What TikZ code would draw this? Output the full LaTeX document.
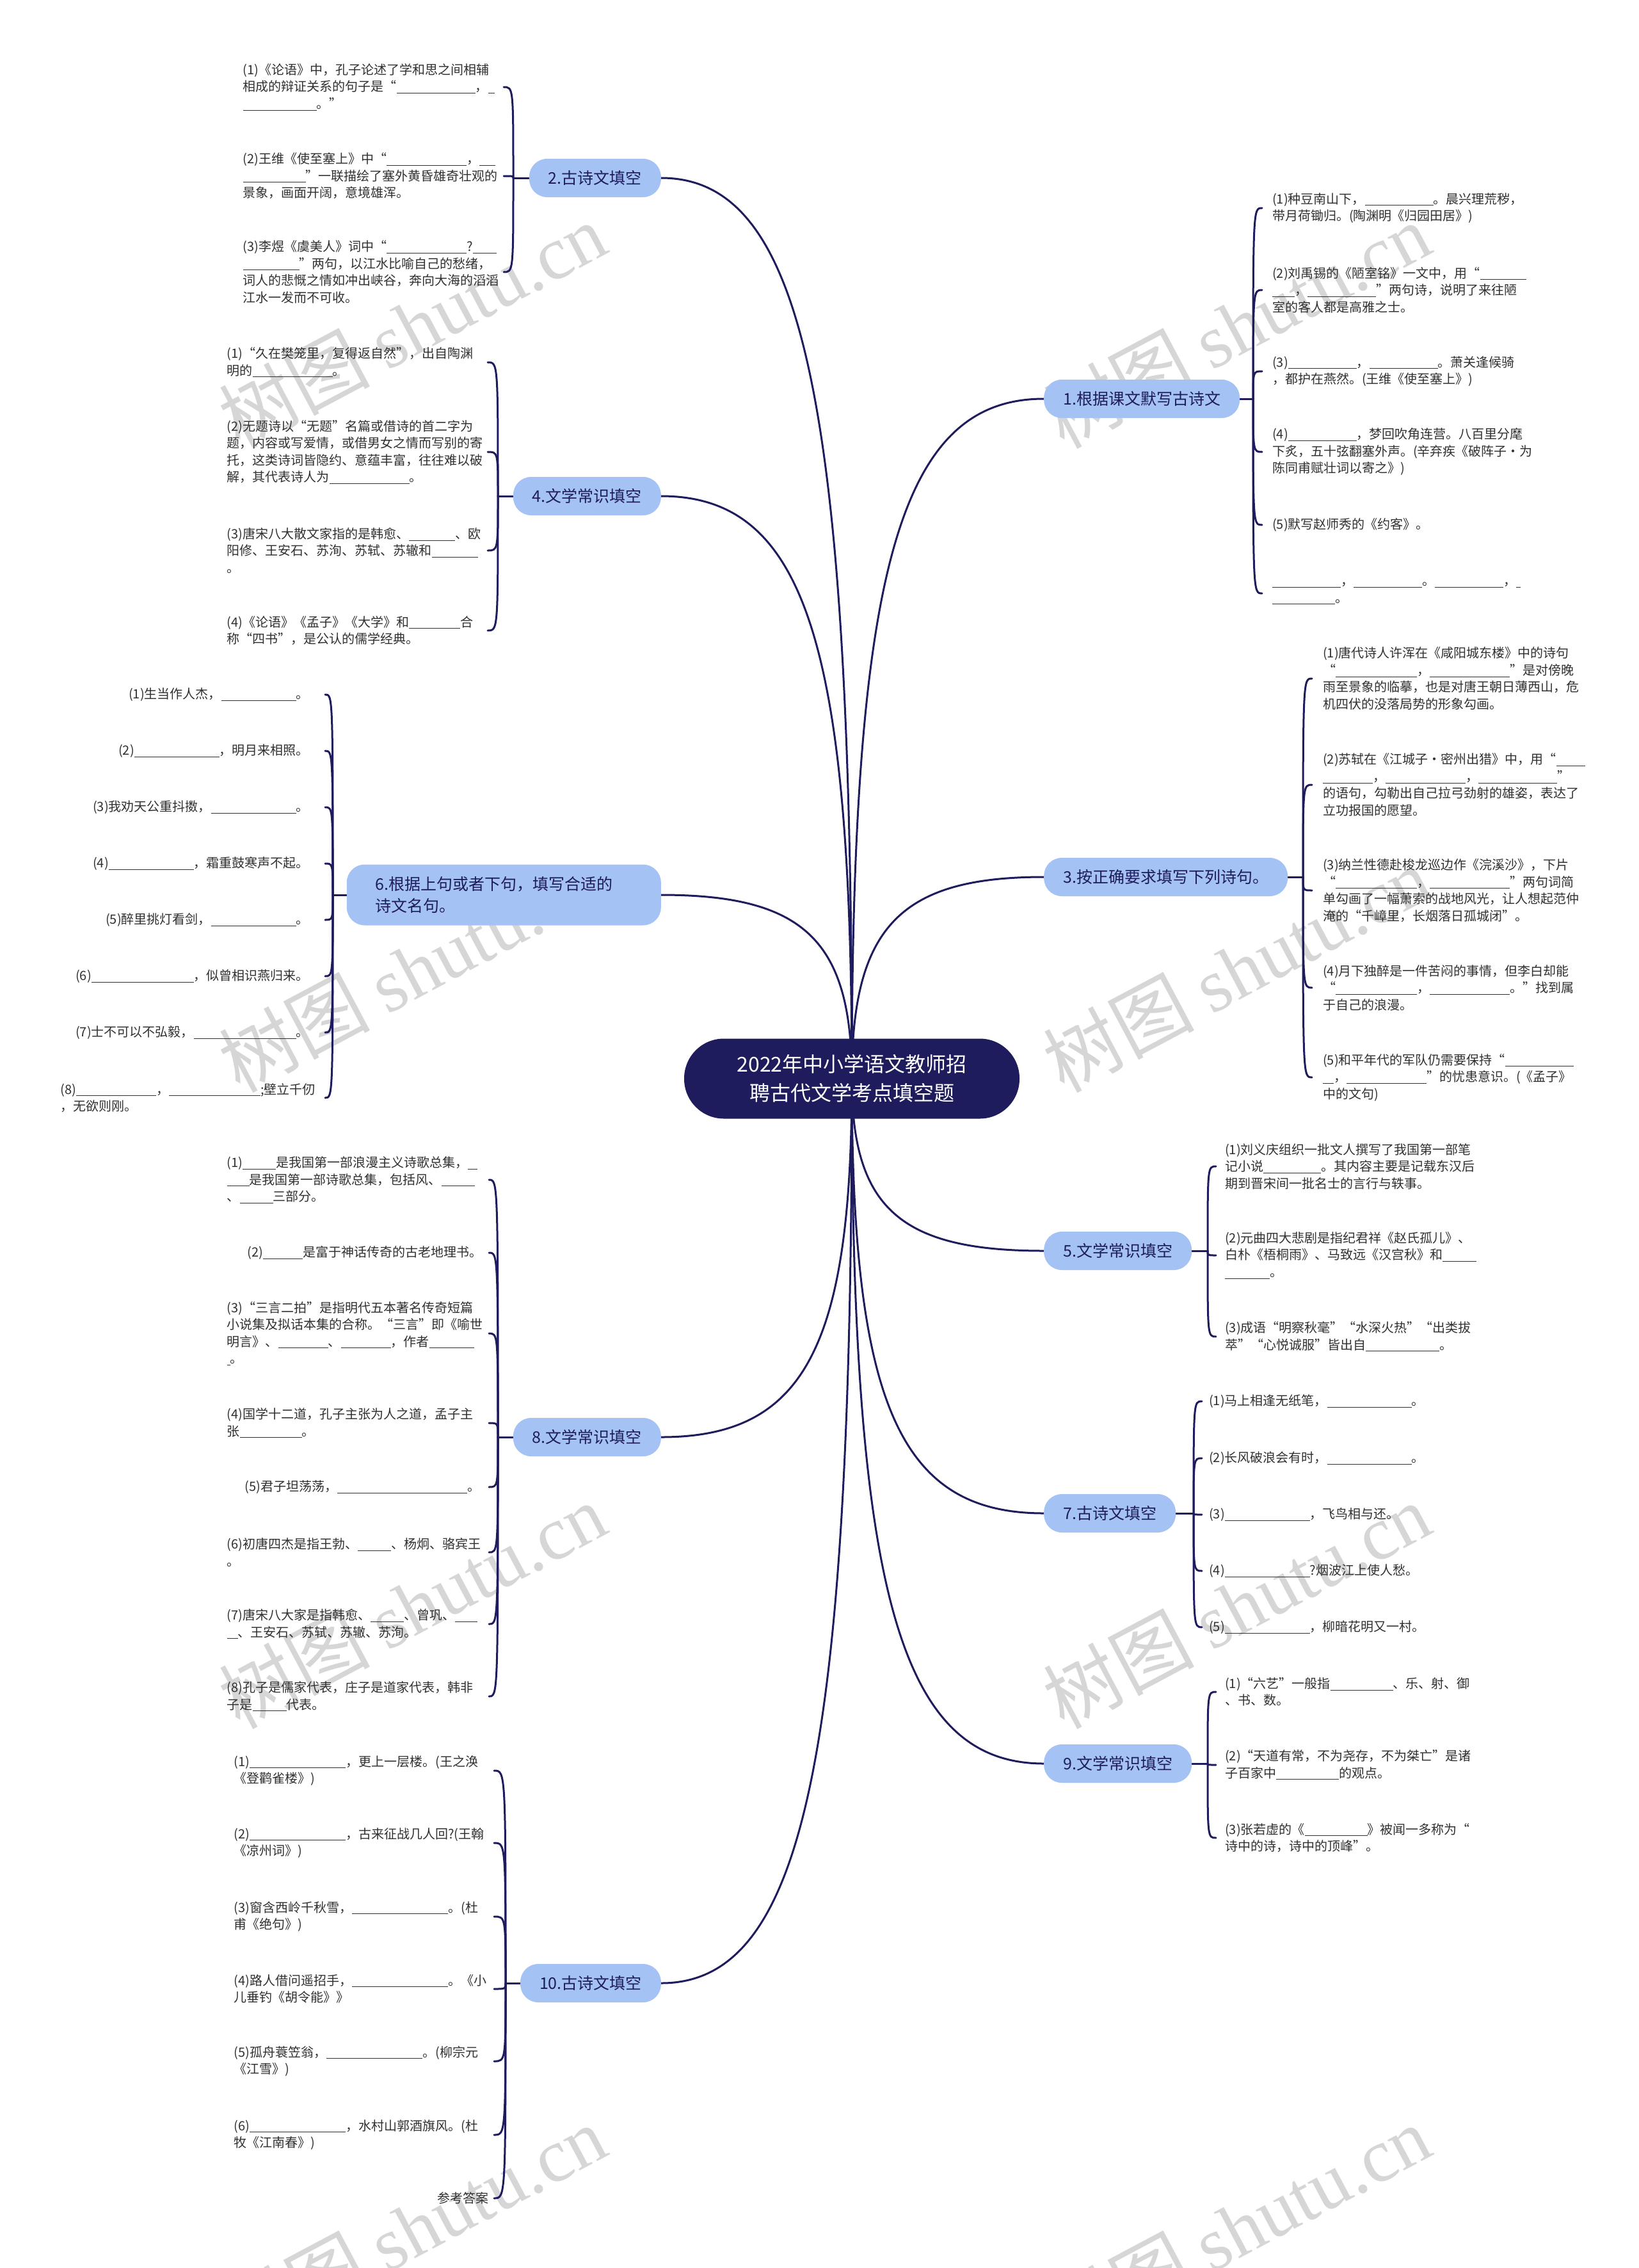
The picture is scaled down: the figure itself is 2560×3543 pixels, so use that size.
\documentclass[tikz,border=0pt]{standalone}
\usepackage{fontspec}
\setmainfont{Noto Sans CJK SC}
\newfontfamily\wmlatin{Liberation Serif}
\usetikzlibrary{calc}
\definecolor{navy}{HTML}{1E1C5C}
\definecolor{lblue}{HTML}{A4C2F4}
\definecolor{leaftxt}{HTML}{303030}
\definecolor{wmgray}{HTML}{D6D6D6}
\newcommand\bk[1]{\rule[-3pt]{#1pt}{0.9pt}}
\newcommand\leaffont{\fontsize{20}{26.5}\selectfont}
\pgfdeclarelayer{back}
\pgfdeclarelayer{links}
\pgfsetlayers{back,links,main}
\begin{document}
\begin{tikzpicture}[x=1pt,y=-1pt,
  conn/.style={draw=navy,line width=3pt,line cap=round},
  wm/.style={text=wmgray,rotate=28,font=\fontsize{118}{118}\selectfont,inner sep=0},
  rootnode/.style={fill=navy,text=white,rounded corners=62,minimum width=524,minimum height=125,align=center,font=\fontsize{32}{45}\selectfont,inner sep=0},
  branch/.style={fill=lblue,text=navy,rounded corners=28,minimum height=60,inner xsep=30,inner ysep=0,font=\fontsize{25}{34}\selectfont},
  lbranch/.style={branch,anchor=east},
  rbranch/.style={branch,anchor=west},
  leaf/.style={text=leaftxt,font=\leaffont,inner ysep=0},
  lleaf/.style={leaf,anchor=east,inner xsep=8,align=left},
  sixleaf/.style={leaf,anchor=east,inner xsep=25,align=right,text width=388},
  rleaf/.style={leaf,anchor=west,align=left},
]
\useasboundingbox (0,0) rectangle (2560,3543);
\begin{pgfonlayer}{back}
\fill[white] (0,0) rectangle (2560,3543);
\foreach \x/\y in {644/508,1932/508,644/1514,1932/1514,644/2508,1932/2508,644/3480,1932/3480}
  \node[wm] at (\x,\y) {树图 {\wmlatin shutu.cn}};
\end{pgfonlayer}

% root
\node[rootnode] (c) at (1331,1685) {2022年中小学语文教师招\\聘古代文学考点填空题};

% branches
\node[lbranch] (b2) at (1033,278) {2.古诗文填空};
\node[lbranch] (b4) at (1033,775) {4.文学常识填空};
\node[lbranch,align=left,text width=401,inner xsep=45,minimum height=95] (b6) at (1033,1398) {6.根据上句或者下句，填写合适的\\诗文名句。};
\node[lbranch] (b8) at (1033,2245) {8.文学常识填空};
\node[lbranch] (b10) at (1033,3098) {10.古诗文填空};
\node[rbranch] (b1) at (1631,623) {1.根据课文默写古诗文};
\node[rbranch] (b3) at (1631,1370) {3.按正确要求填写下列诗句。};
\node[rbranch] (b5) at (1631,1954) {5.文学常识填空};
\node[rbranch] (b7) at (1631,2364) {7.古诗文填空};
\node[rbranch] (b9) at (1631,2755) {9.文学常识填空};

% junctions
\coordinate (j2) at (802,278);
\coordinate (j4) at (778,775);
\coordinate (j6) at (520,1398);
\coordinate (j8) at (778,2245);
\coordinate (j10) at (790,3098);
\coordinate (j1) at (1958,623);
\coordinate (j3) at (2036,1370);
\coordinate (j5) at (1887,1954);
\coordinate (j7) at (1865,2364);
\coordinate (j9) at (1887,2755);

% block 2
\node[lleaf,text width=399] (l2a) at (787,136) {(1)《论语》中，孔子论述了学和思之间相辅\\相成的辩证关系的句子是“\bk{123}，\bk{10}\\\bk{115}。”};
\node[lleaf,text width=399] (l2b) at (787,275) {(2)王维《使至塞上》中“\bk{125}，\bk{25}\\\bk{98}”一联描绘了塞外黄昏雄奇壮观的\\景象，画面开阔，意境雄浑。};
\node[lleaf,text width=399] (l2c) at (787,425) {(3)李煜《虞美人》词中“\bk{125}?\bk{37}\\\bk{88}”两句，以江水比喻自己的愁绪，\\词人的悲慨之情如冲出峡谷，奔向大海的滔滔\\江水一发而不可收。};

% block 4
\node[lleaf,text width=399] (l4a) at (762,566) {(1)“久在樊笼里，复得返自然”，出自陶渊\\明的\bk{125}。};
\node[lleaf,text width=399] (l4b) at (762,706) {(2)无题诗以“无题”名篇或借诗的首二字为\\题，内容或写爱情，或借男女之情而写别的寄\\托，这类诗词皆隐约、意蕴丰富，往往难以破\\解，其代表诗人为\bk{125}。};
\node[lleaf,text width=399] (l4c) at (762,860) {(3)唐宋八大散文家指的是韩愈、\bk{72}、欧\\阳修、王安石、苏洵、苏轼、苏辙和\bk{72}\\。};
\node[lleaf,text width=399] (l4d) at (762,985) {(4)《论语》《孟子》《大学》和\bk{80}合\\称“四书”，是公认的儒学经典。};

% block 6
\node[sixleaf] (l6a) at (508,1085) {(1)生当作人杰，\bk{117}。};
\node[sixleaf] (l6b) at (508,1173) {(2)\bk{133}，明月来相照。};
\node[sixleaf] (l6c) at (508,1261) {(3)我劝天公重抖擞，\bk{133}。};
\node[sixleaf] (l6d) at (508,1349) {(4)\bk{133}，霜重鼓寒声不起。};
\node[sixleaf] (l6e) at (508,1437) {(5)醉里挑灯看剑，\bk{133}。};
\node[sixleaf] (l6f) at (508,1525) {(6)\bk{160}，似曾相识燕归来。};
\node[sixleaf] (l6g) at (508,1613) {(7)士不可以不弘毅，\bk{160}。};
\node[sixleaf,align=left] (l6h) at (508,1715) {(8)\bk{125}，\bk{143};壁立千仞\\，无欲则刚。};

% block 8
\node[lleaf,text width=401] (l8a) at (764,1843) {(1)\bk{52}是我国第一部浪漫主义诗歌总集，\bk{15}\\\bk{35}是我国第一部诗歌总集，包括风、\bk{52}\\、\bk{52}三部分。};
\node[lleaf,text width=369] (l8b) at (764,1957) {(2)\bk{62}是富于神话传奇的古老地理书。};
\node[lleaf,text width=401] (l8c) at (764,2083) {(3)“三言二拍”是指明代五本著名传奇短篇\\小说集及拟话本集的合称。“三言”即《喻世\\明言》、\bk{78}、\bk{78}，作者\bk{70}\\\bk{5}。};
\node[lleaf,text width=401] (l8d) at (764,2223) {(4)国学十二道，孔子主张为人之道，孟子主\\张\bk{97}。};
\node[lleaf,text width=373] (l8e) at (764,2323) {(5)君子坦荡荡，\bk{203}。};
\node[lleaf,text width=401] (l8f) at (764,2425) {(6)初唐四杰是指王勃、\bk{52}、杨炯、骆宾王\\。};
\node[lleaf,text width=401] (l8g) at (764,2537) {(7)唐宋八大家是指韩愈、\bk{52}、曾巩、\bk{35}\\\bk{17}、王安石、苏轼、苏辙、苏洵。};
\node[lleaf,text width=401] (l8h) at (764,2650) {(8)孔子是儒家代表，庄子是道家代表，韩非\\子是\bk{53}代表。};

% block 10
\node[lleaf,text width=398] (l10a) at (772,2766) {(1)\bk{150}，更上一层楼。(王之涣\\《登鹳雀楼》)};
\node[lleaf,text width=398] (l10b) at (772,2879) {(2)\bk{150}，古来征战几人回?(王翰\\《凉州词》)};
\node[lleaf,text width=398] (l10c) at (772,2994) {(3)窗含西岭千秋雪，\bk{150}。(杜\\甫《绝句》)};
\node[lleaf,text width=398] (l10d) at (772,3107) {(4)路人借问遥招手，\bk{150}。《小\\儿垂钓《胡令能》》};
\node[lleaf,text width=398] (l10e) at (772,3220) {(5)孤舟蓑笠翁，\bk{150}。(柳宗元\\《江雪》)};
\node[lleaf,text width=398] (l10f) at (772,3335) {(6)\bk{150}，水村山郭酒旗风。(杜\\牧《江南春》)};
\node[leaf,anchor=east,inner xsep=8] (l10g) at (772,3434) {参考答案};

% block 1
\node[rleaf,inner xsep=16] (l1a) at (1972,325) {(1)种豆南山下，\bk{107}。晨兴理荒秽，\\带月荷锄归。(陶渊明《归园田居》)};
\node[rleaf,inner xsep=16] (l1b) at (1972,453) {(2)刘禹锡的《陋室铭》一文中，用“\bk{72}\\\bk{35}，\bk{107}”两句诗，说明了来往陋\\室的客人都是高雅之士。};
\node[rleaf,inner xsep=16] (l1c) at (1972,580) {(3)\bk{107}，\bk{107}。萧关逢候骑\\，都护在燕然。(王维《使至塞上》)};
\node[rleaf,inner xsep=16] (l1d) at (1972,706) {(4)\bk{107}，梦回吹角连营。八百里分麾\\下炙，五十弦翻塞外声。(辛弃疾《破阵子·为\\陈同甫赋壮词以寄之》)};
\node[rleaf,inner xsep=16] (l1e) at (1972,820) {(5)默写赵师秀的《约客》。};
\node[rleaf,inner xsep=16] (l1f) at (1972,927) {\bk{107}，\bk{107}。\bk{107}，\bk{7}\\\bk{98}。};

% block 3
\node[rleaf,inner xsep=17] (l3a) at (2050,1060) {(1)唐代诗人许浑在《咸阳城东楼》中的诗句\\“\bk{127}，\bk{125}”是对傍晚\\雨至景象的临摹，也是对唐王朝日薄西山，危\\机四伏的没落局势的形象勾画。};
\node[rleaf,inner xsep=17] (l3b) at (2050,1226) {(2)苏轼在《江城子·密州出猎》中，用“\bk{45}\\\bk{78}，\bk{125}，\bk{123}”\\的语句，勾勒出自己拉弓劲射的雄姿，表达了\\立功报国的愿望。};
\node[rleaf,inner xsep=17] (l3c) at (2050,1391) {(3)纳兰性德赴梭龙巡边作《浣溪沙》，下片\\“\bk{127}，\bk{125}”两句词简\\单勾画了一幅萧索的战地风光，让人想起范仲\\淹的“千嶂里，长烟落日孤城闭”。};
\node[rleaf,inner xsep=17] (l3d) at (2050,1543) {(4)月下独醉是一件苦闷的事情，但李白却能\\“\bk{127}，\bk{125}。”找到属\\于自己的浪漫。};
\node[rleaf,inner xsep=17] (l3e) at (2050,1683) {(5)和平年代的军队仍需要保持“\bk{107}\\\bk{17}，\bk{125}”的忧患意识。(《孟子》\\中的文句)};

% block 5
\node[rleaf,inner xsep=14] (l5a) at (1900,1822) {(1)刘义庆组织一批文人撰写了我国第一部笔\\记小说\bk{90}。其内容主要是记载东汉后\\期到晋宋间一批名士的言行与轶事。};
\node[rleaf,inner xsep=14] (l5b) at (1900,1961) {(2)元曲四大悲剧是指纪君祥《赵氏孤儿》、\\白朴《梧桐雨》、马致远《汉宫秋》和\bk{53}\\\bk{70}。};
\node[rleaf,inner xsep=14] (l5c) at (1900,2088) {(3)成语“明察秋毫”“水深火热”“出类拔\\萃”“心悦诚服”皆出自\bk{115}。};

% block 7
\node[rleaf,inner xsep=11] (l7a) at (1878,2189) {(1)马上相逢无纸笔，\bk{132}。};
\node[rleaf,inner xsep=11] (l7b) at (1878,2278) {(2)长风破浪会有时，\bk{132}。};
\node[rleaf,inner xsep=11] (l7c) at (1878,2366) {(3)\bk{133}，飞鸟相与还。};
\node[rleaf,inner xsep=11] (l7d) at (1878,2454) {(4)\bk{133}?烟波江上使人愁。};
\node[rleaf,inner xsep=11] (l7e) at (1878,2542) {(5)\bk{133}，柳暗花明又一村。};

% block 9
\node[rleaf,inner xsep=14] (l9a) at (1900,2643) {(1)“六艺”一般指\bk{98}、乐、射、御\\、书、数。};
\node[rleaf,inner xsep=14] (l9b) at (1900,2757) {(2)“天道有常，不为尧存，不为桀亡”是诸\\子百家中\bk{98}的观点。};
\node[rleaf,inner xsep=14] (l9c) at (1900,2871) {(3)张若虚的《\bk{98}》被闻一多称为“\\诗中的诗，诗中的顶峰”。};

\begin{pgfonlayer}{links}
% root to branches
\foreach \b in {b2,b4,b6,b8,b10}
  \draw[conn] (c.center) .. controls ($(c.center)!0.75!(c.center|-\b.east)$) and ($(\b.east)!0.75!(c.center|-\b.east)$) .. (\b.east);
\foreach \b in {b1,b3,b5,b7,b9}
  \draw[conn] (c.center) .. controls ($(c.center)!0.75!(c.center|-\b.west)$) and ($(\b.west)!0.75!(c.center|-\b.west)$) .. (\b.west);
% left braces
\draw[conn] (b2.west) -- (j2);
\foreach \l in {l2a,l2b,l2c} \draw[conn] (j2) .. controls (j2|-\l.east) .. (\l.east);
\draw[conn] (b4.west) -- (j4);
\foreach \l in {l4a,l4b,l4c,l4d} \draw[conn] (j4) .. controls (j4|-\l.east) .. (\l.east);
\draw[conn] (b6.west) -- (j6);
\foreach \l in {l6a,l6b,l6c,l6d,l6e,l6f,l6g,l6h} \draw[conn] (j6) .. controls (j6|-\l.east) .. (\l.east);
\draw[conn] (b8.west) -- (j8);
\foreach \l in {l8a,l8b,l8c,l8d,l8e,l8f,l8g,l8h} \draw[conn] (j8) .. controls (j8|-\l.east) .. (\l.east);
\draw[conn] (b10.west) -- (j10);
\foreach \l in {l10a,l10b,l10c,l10d,l10e,l10f,l10g} \draw[conn] (j10) .. controls (j10|-\l.east) .. (\l.east);
% right braces
\draw[conn] (b1.east) -- (j1);
\foreach \l in {l1a,l1b,l1c,l1d,l1e,l1f} \draw[conn] (j1) .. controls (j1|-\l.west) .. (\l.west);
\draw[conn] (b3.east) -- (j3);
\foreach \l in {l3a,l3b,l3c,l3d,l3e} \draw[conn] (j3) .. controls (j3|-\l.west) .. (\l.west);
\draw[conn] (b5.east) -- (j5);
\foreach \l in {l5a,l5b,l5c} \draw[conn] (j5) .. controls (j5|-\l.west) .. (\l.west);
\draw[conn] (b7.east) -- (j7);
\foreach \l in {l7a,l7b,l7c,l7d,l7e} \draw[conn] (j7) .. controls (j7|-\l.west) .. (\l.west);
\draw[conn] (b9.east) -- (j9);
\foreach \l in {l9a,l9b,l9c} \draw[conn] (j9) .. controls (j9|-\l.west) .. (\l.west);
\end{pgfonlayer}
\end{tikzpicture}
\end{document}
